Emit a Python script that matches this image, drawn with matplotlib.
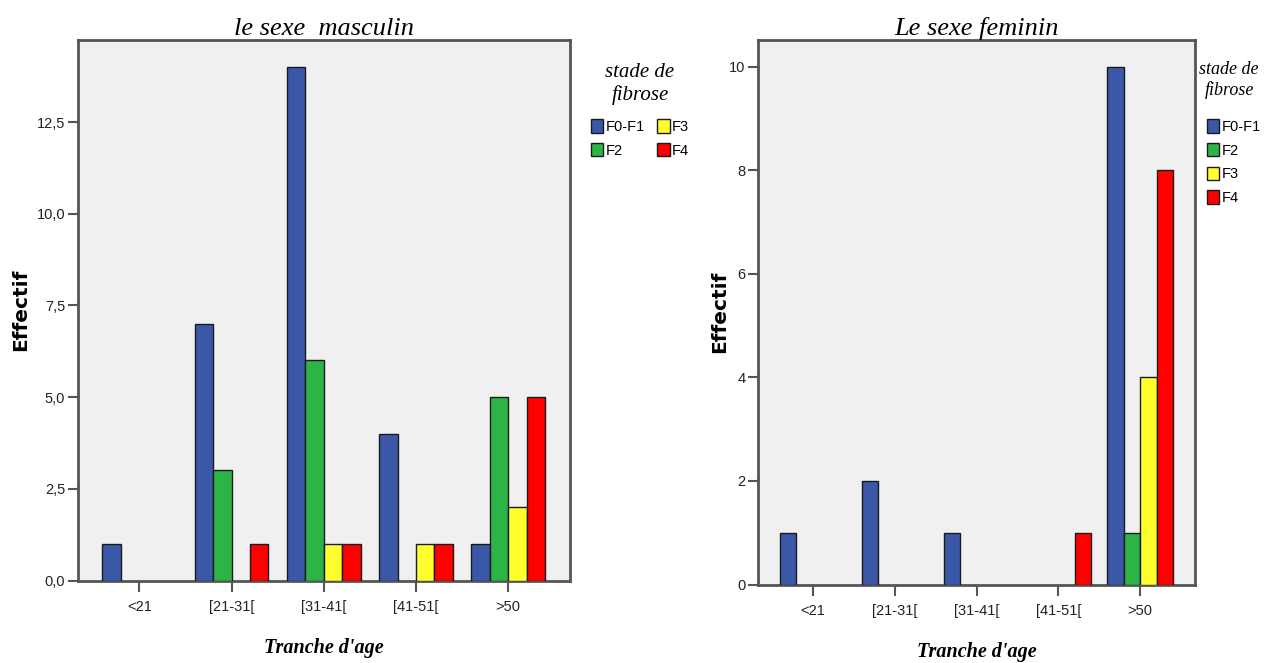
import numpy as np
import matplotlib
matplotlib.use("Agg")
import matplotlib.pyplot as plt
from matplotlib.patches import Patch

# Age groups and fibrosis stages
age_groups = ["<21", "[21-31[", "[31-41[", "[41-51[", ">50"]
stages = ["F0-F1", "F2", "F3", "F4"]
stage_colors = ["#3B57A8", "#2DB446", "#FFFF2E", "#FF0000"]

# Counts per stage (one list per stage, one value per age group)
male_f0f1 = [1, 7, 14, 4, 1]
male_f2 = [0, 3, 6, 0, 5]
male_f3 = [0, 0, 1, 1, 2]
male_f4 = [0, 1, 1, 1, 5]

female_f0f1 = [1, 2, 1, 0, 10]
female_f2 = [0, 0, 0, 0, 1]
female_f3 = [0, 0, 0, 0, 4]
female_f4 = [0, 0, 0, 1, 8]

male_yticks = [0, 2.5, 5.0, 7.5, 10.0, 12.5]
male_yticklabels = ["0,0", "2,5", "5,0", "7,5", "10,0", "12,5"]
female_yticks = [0, 2, 4, 6, 8, 10]
female_yticklabels = ["0", "2", "4", "6", "8", "10"]

W, H = 1269, 663
narrow = ["Liberation Sans Narrow", "Liberation Sans", "DejaVu Sans"]
serif = ["Liberation Serif", "DejaVu Serif"]

fig = plt.figure(figsize=(W / 100, H / 100), dpi=100)
ax1 = fig.add_axes([77.5 / W, 1 - 580.5 / H, (570 - 77.5) / W, (580.5 - 40) / H])
ax2 = fig.add_axes([758 / W, 1 - 584.5 / H, (1195 - 758) / W, (584.5 - 39.5) / H])

spine_col = "#555555"
bar_w = 0.2


def draw_panel(ax, series, title, ylim, yticks, yticklabels, ylabel_x, xlabel_pad):
    x = np.arange(len(age_groups))
    for i, (vals, col) in enumerate(zip(series, stage_colors)):
        vals = np.asarray(vals, dtype=float)
        mask = vals > 0
        ax.bar(x[mask] + (i - 1.5) * bar_w, vals[mask], width=bar_w, color=col,
               edgecolor="#1a1a1a", linewidth=1.0, zorder=3)
    ax.set_facecolor("#F0F0F0")
    ax.set_xlim(-0.67, len(age_groups) - 1 + 0.67)
    ax.set_ylim(*ylim)
    ax.set_xticks(x)
    ax.set_xticklabels(age_groups, fontfamily=narrow, fontsize=10.5)
    ax.set_yticks(yticks)
    ax.set_yticklabels(yticklabels, fontfamily=narrow, fontsize=10.5)
    ax.tick_params(axis="both", direction="out", width=1.5, color=spine_col,
                   labelcolor="#222222")
    ax.tick_params(axis="y", length=7, pad=2)
    ax.tick_params(axis="x", length=8, pad=6)
    for s in ax.spines.values():
        s.set_color(spine_col)
        s.set_linewidth(2)
    ax.set_title(title, fontfamily=serif, fontstyle="italic", fontsize=19, pad=3)
    ax.set_xlabel("Tranche d'age", fontfamily=serif, fontstyle="italic",
                  fontweight="bold", fontsize=14.5, labelpad=xlabel_pad)
    ax.set_ylabel("Effectif", fontfamily="DejaVu Sans", fontweight="bold", fontsize=14.5)
    ax.yaxis.set_label_coords(ylabel_x, 0.5)


draw_panel(ax1, [male_f0f1, male_f2, male_f3, male_f4], "le sexe  masculin",
           (0, 14.74), male_yticks, male_yticklabels, (30 - 77.5) / (570 - 77.5), 17)
draw_panel(ax2, [female_f0f1, female_f2, female_f3, female_f4], "Le sexe feminin",
           (0, 10.53), female_yticks, female_yticklabels, (729 - 758) / (1195 - 758), 17)

handles = [Patch(facecolor=c, edgecolor="#1a1a1a", linewidth=1.0) for c in stage_colors]

# Legend titles
fig.text(640 / W, 1 - 84 / H, "stade de\nfibrose", ha="center", va="center",
         fontfamily=serif, fontstyle="italic", fontsize=15, linespacing=1.15)
fig.text(1229 / W, 1 - 80 / H, "stade de\nfibrose", ha="center", va="center",
         fontfamily=serif, fontstyle="italic", fontsize=13, linespacing=1.2)

fig.legend(handles, stages, loc="upper left", bbox_to_anchor=(591 / W, 1 - 119 / H),
           ncol=2, frameon=False, prop={"family": narrow, "size": 10.5},
           handlelength=0.85, handleheight=1.05, handletextpad=0.15,
           columnspacing=0.85, labelspacing=0.62, borderpad=0.0, borderaxespad=0.0)
fig.legend(handles, stages, loc="upper left", bbox_to_anchor=(1207 / W, 1 - 119 / H),
           ncol=1, frameon=False, prop={"family": narrow, "size": 10.5},
           handlelength=0.85, handleheight=1.05, handletextpad=0.15,
           labelspacing=0.62, borderpad=0.0, borderaxespad=0.0)

fig.savefig("out.png", dpi=100)
